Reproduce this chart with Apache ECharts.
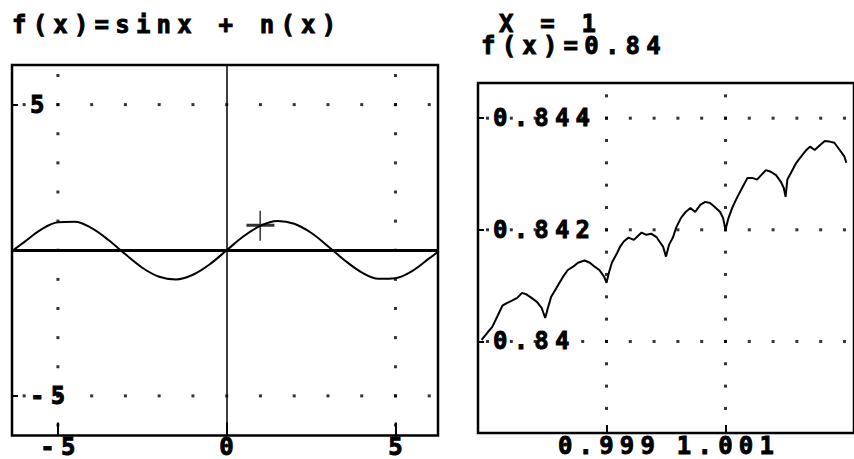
<!DOCTYPE html>
<html>
<head>
<meta charset="utf-8">
<script src="https://cdn.jsdelivr.net/npm/echarts@6/dist/echarts.min.js"></script>
<style>
  html, body { margin: 0; padding: 0; background: #fff; }
  #main { width: 854px; height: 459px; }
  /* wide, heavy calculator-style lettering */
  #main text { letter-spacing: 6.2px; stroke: #000; stroke-width: 0.9px; }
</style>
</head>
<body>
<div id="main"></div>
<script>
// 左图：f(x) = sin x + n(x)，整体视图
var titleText = 'f(x)=sinx + n(x)';
var sinX = [-6.3, -6, -5.5, -5, -4.5, -4, -3.5, -3, -2.5, -2, -1.5, -1, -0.5, 0,
            0.5, 1, 1.5, 2, 2.5, 3, 3.5, 4, 4.5, 5, 5.5, 6, 6.3];
var sinY = [0.02, 0.28, 0.71, 0.96, 0.98, 0.76, 0.35, -0.14, -0.6, -0.91, -1, -0.84, -0.48, 0,
            0.48, 0.84, 1, 0.91, 0.6, 0.14, -0.35, -0.76, -0.98, -0.96, -0.71, -0.28, -0.02];
var leftXTicks = [-5, 0, 5];
var leftYTicks = [-5, 5];
var leftDotCols = [-5, 5];
var leftDotRows = [-5, 5];
var leftDotSteps = [-6, -5, -4, -3, -2, -1, 0, 1, 2, 3, 4, 5, 6];

// 光标位置
var cursorX = [1];
var cursorY = [0.84];

// 右图：x = 1 附近放大
var zoomX = [0.9969, 0.997, 0.99708, 0.99717, 0.99725, 0.99733, 0.99741, 0.9975, 0.99758, 0.99766,
             0.99774, 0.99783, 0.99791, 0.99797, 0.99802, 0.99807, 0.99816, 0.99827, 0.99835, 0.99844,
             0.99852, 0.99863, 0.99872, 0.9988, 0.99888, 0.99896, 0.999, 0.99904, 0.99909, 0.99918,
             0.99923, 0.99929, 0.99937, 0.99946, 0.99951, 0.99959, 0.99967, 0.99975, 0.99984, 0.99989,
             0.99995, 1, 1.00005, 1.00012, 1.00017, 1.00025, 1.00033, 1.00041, 1.00049, 1.00058,
             1.00066, 1.00074, 1.00082, 1.00091, 1.00096, 1.001, 1.00105, 1.00112, 1.0012, 1.00129,
             1.00137, 1.00145, 1.00153, 1.0016, 1.00168, 1.00176, 1.00185, 1.00193, 1.00198, 1.00201,
             1.00204, 1.00211, 1.00219, 1.00227, 1.00236, 1.00242, 1.0025, 1.00259, 1.00267, 1.00275,
             1.00283, 1.00292, 1.003, 1.00303];
var zoomY = [0.84003, 0.84016, 0.84026, 0.84046, 0.84064, 0.84069, 0.84073, 0.84078, 0.84087, 0.84084,
             0.84078, 0.84071, 0.8406, 0.84042, 0.84062, 0.8408, 0.84096, 0.84116, 0.84128, 0.84134,
             0.84141, 0.84145, 0.84141, 0.84134, 0.84128, 0.84116, 0.84105, 0.84123, 0.84141, 0.84159,
             0.8417, 0.84179, 0.84186, 0.84182, 0.84187, 0.84195, 0.84191, 0.84193, 0.84187, 0.84179,
             0.8417, 0.84152, 0.84173, 0.84187, 0.84204, 0.84221, 0.84232, 0.84239, 0.84232, 0.84245,
             0.8425, 0.84248, 0.84241, 0.84232, 0.84221, 0.842, 0.84221, 0.84241, 0.84259, 0.84277,
             0.84293, 0.84293, 0.8429, 0.84298, 0.84307, 0.84304, 0.84298, 0.84286, 0.84275, 0.84259,
             0.8429, 0.84304, 0.8432, 0.84331, 0.84343, 0.84349, 0.84343, 0.84352, 0.84359, 0.84358,
             0.84356, 0.84343, 0.84331, 0.8432];
var rightXTicks = [0.999, 1.001];
var rightYTicks = [0.84, 0.842, 0.844];
var rightDotCols = [0.999, 1.001];
var rightDotRows = [0.84, 0.842, 0.844];
var rightDotXs = [0.997, 0.9974, 0.9978, 0.9982, 0.9986, 0.999, 0.9994, 0.9998, 1.0002, 1.0006,
                  1.001, 1.0014, 1.0018, 1.0022, 1.0026, 1.003];
var rightDotYs = [0.8388, 0.8392, 0.8396, 0.84, 0.8404, 0.8408, 0.8412, 0.8416, 0.842, 0.8424,
                  0.8428, 0.8432, 0.8436, 0.844, 0.8444];

var FONT = "'DejaVu Sans Mono', monospace";

function pairs(xs, ys) {
    var out = [];
    for (var i = 0; i < xs.length; i++) {
        out.push([xs[i], ys[i]]);
    }
    return out;
}

// 点状网格：竖列和横行上的点
function dotGrid(cols, rows, xs, ys) {
    var out = [];
    for (var i = 0; i < cols.length; i++) {
        for (var j = 0; j < ys.length; j++) out.push([cols[i], ys[j]]);
    }
    for (var k = 0; k < rows.length; k++) {
        for (var m = 0; m < xs.length; m++) out.push([xs[m], rows[k]]);
    }
    return out;
}

var labelStyle = {
    fontFamily: FONT,
    fontWeight: 'bold',
    fontSize: 24,
    color: '#000'
};
var titleStyle = Object.assign({ lineHeight: 17 }, labelStyle);
var bottomStyle = Object.assign({ lineHeight: 17 }, labelStyle);

var myChart = echarts.init(document.getElementById('main'), null, { renderer: 'svg' });

var option = {
    animation: false,
    backgroundColor: '#fff',
    title: [
        { text: titleText, left: 12, top: 16, padding: 0, textStyle: titleStyle },
        { text: 'X = ' + cursorX[0], left: 499, top: 15, padding: 0, textStyle: titleStyle },
        { text: 'f(x)=' + cursorY[0], left: 481, top: 37, padding: 0, textStyle: titleStyle }
    ],
    grid: [
        {
            left: 12, top: 65, width: 426, height: 372,
            show: true, borderColor: '#000', borderWidth: 2.5
        },
        {
            left: 478, top: 83, width: 384, height: 350,
            show: true, borderColor: '#000', borderWidth: 2.5
        }
    ],
    xAxis: [
        {
            gridIndex: 0, type: 'value', min: -6.36, max: 6.26,
            axisLine: { show: false, onZero: false },
            splitLine: { show: false },
            axisTick: { customValues: leftXTicks, inside: true, length: 13, lineStyle: { color: '#000', width: 2 } },
            axisLabel: Object.assign({ customValues: leftXTicks, margin: 3, padding: [0, 0, 0, 6] }, bottomStyle)
        },
        {
            gridIndex: 1, type: 'value', min: 0.99684, max: 1.00316,
            axisLine: { show: false, onZero: false },
            splitLine: { show: false },
            axisTick: { customValues: rightXTicks, inside: true, length: 8, lineStyle: { color: '#000', width: 2 } },
            axisLabel: Object.assign({ customValues: rightXTicks, margin: 4, padding: [0, 0, 0, 6] }, bottomStyle)
        }
    ],
    yAxis: [
        {
            gridIndex: 0, type: 'value', min: -6.36, max: 6.36,
            axisLine: { show: false, onZero: false },
            splitLine: { show: false },
            axisTick: { customValues: leftYTicks, inside: true, length: 6, lineStyle: { color: '#000', width: 2 } },
            axisLabel: Object.assign({
                customValues: leftYTicks, inside: true, margin: 18,
                backgroundColor: '#fff', padding: [0, 3, 0, 0]
            }, labelStyle)
        },
        {
            gridIndex: 1, type: 'value', min: 0.83836, max: 0.84463,
            axisLine: { show: false, onZero: false },
            splitLine: { show: false },
            axisTick: { customValues: rightYTicks, inside: true, length: 6, lineStyle: { color: '#000', width: 2 } },
            axisLabel: Object.assign({
                customValues: rightYTicks, inside: true, margin: 15,
                backgroundColor: '#fff', padding: [0, 30, 0, 0]
            }, labelStyle)
        }
    ],
    series: [
        {
            type: 'scatter', xAxisIndex: 0, yAxisIndex: 0, silent: true, z: 1,
            symbol: 'rect', symbolSize: 3,
            itemStyle: { color: '#000' },
            data: dotGrid(leftDotCols, leftDotRows, leftDotSteps, leftDotSteps)
        },
        {
            name: 'f(x)', type: 'line', xAxisIndex: 0, yAxisIndex: 0, z: 3,
            smooth: 0.35, showSymbol: false,
            lineStyle: { color: '#000', width: 2 },
            data: pairs(sinX, sinY),
            markLine: {
                silent: true,
                symbol: ['none', 'none'],
                label: { show: false },
                lineStyle: { color: '#000', type: 'solid' },
                data: [
                    { yAxis: 0, lineStyle: { width: 3 } },
                    { xAxis: 0, lineStyle: { width: 1.5 } }
                ]
            }
        },
        {
            type: 'scatter', xAxisIndex: 0, yAxisIndex: 0, silent: true, z: 4,
            symbol: 'path://M0,13h28v3h-28z M13,0h1.5v30h-1.5z',
            symbolSize: [28, 30],
            itemStyle: { color: '#000' },
            data: pairs(cursorX, cursorY)
        },
        {
            type: 'scatter', xAxisIndex: 1, yAxisIndex: 1, silent: true, z: 1,
            symbol: 'rect', symbolSize: 3,
            itemStyle: { color: '#000' },
            data: dotGrid(rightDotCols, rightDotRows, rightDotXs, rightDotYs)
        },
        {
            name: 'zoom', type: 'line', xAxisIndex: 1, yAxisIndex: 1, z: 3,
            showSymbol: false,
            lineStyle: { color: '#000', width: 2 },
            data: pairs(zoomX, zoomY)
        }
    ]
};

myChart.setOption(option);
</script>
</body>
</html>
